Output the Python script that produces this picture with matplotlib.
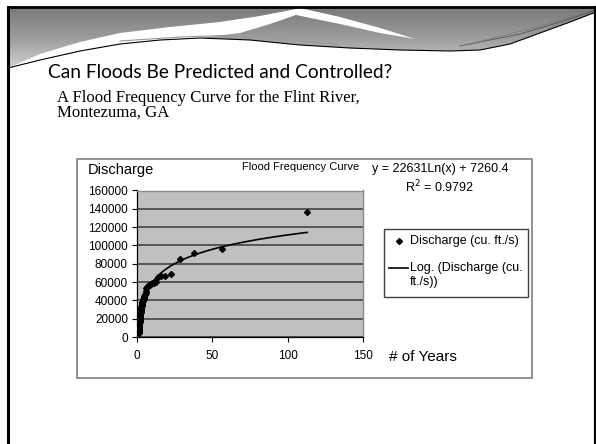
import numpy as np
import matplotlib
matplotlib.use("Agg")
import matplotlib.pyplot as plt
from matplotlib.patches import Polygon, Rectangle
from matplotlib.colors import LinearSegmentedColormap

# ---------------- data ----------------
years = [113.0, 56.5, 37.67, 28.25, 22.6, 18.83, 16.14, 14.13, 12.56, 11.3,
         10.27, 9.42, 8.69, 8.07, 7.53, 7.06, 6.65, 6.28, 5.95, 5.65,
         5.38, 5.14, 4.91, 4.71, 4.52, 4.35, 4.19, 4.04, 3.90, 3.77,
         3.65, 3.53, 3.42, 3.32, 3.23, 3.14, 3.05, 2.97, 2.90, 2.83,
         2.76, 2.69, 2.63, 2.57, 2.51, 2.46, 2.40, 2.35, 2.31, 2.26,
         2.22, 2.17, 2.13, 2.09, 2.05, 2.02, 1.98, 1.95, 1.92, 1.88,
         1.85, 1.82, 1.79, 1.77, 1.74, 1.71, 1.69, 1.66, 1.64, 1.61,
         1.59, 1.57, 1.55, 1.53, 1.51, 1.49, 1.47, 1.45, 1.43, 1.41,
         1.40, 1.38, 1.36, 1.35, 1.33, 1.31, 1.30, 1.28, 1.27, 1.26,
         1.24, 1.23, 1.22, 1.20, 1.19, 1.18, 1.16, 1.15, 1.14, 1.13,
         1.12, 1.11, 1.10, 1.09, 1.08, 1.07, 1.06, 1.05, 1.04, 1.03,
         1.02, 1.01]
discharge = [136000, 96500, 92000, 85000, 69000, 67000, 66500, 66000, 60000, 59000,
             58500, 58000, 57000, 56500, 56000, 55500, 55000, 54000, 50000, 48500,
             47000, 46000, 45000, 44000, 43000, 42000, 41000, 40500, 40000, 39000,
             38000, 37500, 37000, 36000, 35000, 34500, 34000, 33000, 32500, 32000,
             31000, 30500, 30000, 29500, 29000, 28000, 27500, 27000, 26500, 26000,
             25500, 25000, 24500, 24000, 23500, 23000, 22000, 21500, 21000, 20500,
             20000, 19500, 19000, 18500, 18000, 17500, 17000, 16500, 16000, 15500,
             15000, 14500, 14000, 13500, 13000, 12800, 12500, 12200, 12000, 11700,
             11400, 11100, 10800, 10500, 10200, 10000, 9800, 9600, 9400, 9200,
             9000, 8800, 8600, 8400, 8200, 8000, 7800, 7600, 7400, 7200,
             7000, 6800, 6600, 6400, 6200, 6000, 5800, 5600, 5400, 5200,
             5000, 4500]
trend_slope = 22631
trend_intercept = 7260.4
x_ticks = [0, 50, 100, 150]
y_ticks = [0, 20000, 40000, 60000, 80000, 100000, 120000, 140000, 160000]

W, H = 596, 444
fig = plt.figure(figsize=(W / 100, H / 100), dpi=100)
fig.patch.set_facecolor("white")
bg = fig.add_axes([0, 0, 1, 1], zorder=0)
bg.axis("off")

# ---------------- header swoosh ----------------
L = [(8, 68), (40, 60), (80, 51), (120, 44), (160, 40), (200, 38), (250, 40),
     (300, 45), (350, 48), (400, 50), (450, 51), (480, 50), (510, 44),
     (540, 33), (570, 22), (596, 12)]
region = Polygon([(8, 8), (596, 8)] + L[::-1], closed=True, fc="none", ec="none")
bg.add_patch(region)
cmap = LinearSegmentedColormap.from_list("hdr", ["#7a7a7a", "#9e9e9e", "#d4d4d4"])
grad = np.linspace(0, 1, 200).reshape(-1, 1)
im = bg.imshow(grad, cmap=cmap, extent=(8, 596, 70, 8), aspect="auto",
               interpolation="bilinear")
im.set_clip_path(region)

U = [(8, 68), (40, 54), (80, 42), (120, 33), (170, 27), (220, 22), (260, 16), (296, 9)]
Q = [(300, 8), (340, 17), (380, 28), (415, 39)]
P = [(380, 33), (340, 24), (296, 15), (270, 24), (240, 33), (200, 38)]
Lleft = [(160, 40), (120, 44), (80, 51), (40, 60)]
bg.add_patch(Polygon(U + Q + P + Lleft, closed=True, fc="white", ec="none"))

lx, ly = zip(*L)
bg.plot(lx, ly, color="black", lw=0.8)
bg.plot([120, 180, 240, 300, 340], [41, 37, 35, 41, 45], color="#9a9a9a", lw=0.8)
bg.plot([460, 520, 560, 596], [46, 34, 22, 10], color="#555555", lw=0.6)
bg.plot([470, 525, 565, 596], [44, 30, 19, 9], color="#777777", lw=0.5)

# slide borders
bg.plot([8, 596], [7, 7], color="black", lw=2)
bg.plot([8, 8], [7, 444], color="black", lw=2.2)
bg.plot([595, 595], [7, 444], color="black", lw=1.6)

bg.set_xlim(0, W)
bg.set_ylim(H, 0)

# ---------------- slide text ----------------
bg.text(48, 78, "Can Floods Be Predicted and Controlled?", family="Lato",
        fontsize=13.8, va="baseline", ha="left", color="black")
bg.text(57, 102, "A Flood Frequency Curve for the Flint River,",
        family="Liberation Serif", fontsize=12.1, va="baseline", ha="left")
bg.text(57, 117, "Montezuma, GA", family="Liberation Serif", fontsize=12.1,
        va="baseline", ha="left")

# ---------------- chart frame ----------------
bg.add_patch(Rectangle((77, 159), 455, 219, fc="white", ec="#808080", lw=1.2))

AF = "Liberation Sans"
bg.text(301, 167, "Flood Frequency Curve", family=AF, fontsize=8, ha="center", va="center")
bg.text(88, 170, "Discharge", family=AF, fontsize=10.5, ha="left", va="center")
bg.text(389, 357, "# of Years", family=AF, fontsize=11, ha="left", va="center")
bg.text(440, 169, "y = 22631Ln(x) + 7260.4", family=AF, fontsize=9, ha="center", va="center")
bg.text(440, 187, "R$^2$ = 0.9792", family=AF, fontsize=9, ha="center", va="center")

# legend (drawn in slide pixels)
bg.add_patch(Rectangle((384, 229), 144, 68, fc="white", ec="#404040", lw=1.0))
bg.plot([398.5], [241], marker="D", ms=3, color="black", ls="none")
bg.text(410, 241, "Discharge (cu. ft./s)", family=AF, fontsize=9, ha="left", va="center")
bg.plot([389, 408], [268, 268], color="black", lw=1.2)
bg.text(410, 268, "Log. (Discharge (cu.", family=AF, fontsize=9, ha="left", va="center")
bg.text(410, 282, "ft./s))", family=AF, fontsize=9, ha="left", va="center")

# ---------------- plot area ----------------
x0, x1, y0, y1 = 137, 363, 337, 190.5
ax = fig.add_axes([x0 / W, (H - y0) / H, (x1 - x0) / W, (y0 - y1) / H], zorder=2)
ax.set_facecolor("#c0c0c0")
ax.set_xlim(0, 150)
ax.set_ylim(0, 160000)
ax.set_xticks(x_ticks)
ax.set_yticks(y_ticks)
ax.set_xticklabels([str(v) for v in x_ticks], family=AF, fontsize=8.5)
ax.set_yticklabels([str(v) for v in y_ticks], family=AF, fontsize=8.5)
ax.yaxis.grid(True, color="#444444", lw=1.2)
ax.set_axisbelow(True)
ax.tick_params(axis="both", direction="out", length=3.5, width=0.8, color="black")
ax.tick_params(axis="x", pad=6)
ax.tick_params(axis="y", pad=3)
for s in ["top", "right"]:
    ax.spines[s].set_color("#8a8a8a")
    ax.spines[s].set_linewidth(1.0)
for s in ["left", "bottom"]:
    ax.spines[s].set_color("black")
    ax.spines[s].set_linewidth(0.9)

xs = np.array(years)
xline = np.linspace(min(years), max(years), 300)
ax.plot(xline, trend_slope * np.log(xline) + trend_intercept, color="black", lw=1.2, zorder=3)
ax.plot(xs, discharge, ls="none", marker="D", ms=3, color="black", zorder=4)

fig.savefig("out.png", dpi=100, facecolor="white")
